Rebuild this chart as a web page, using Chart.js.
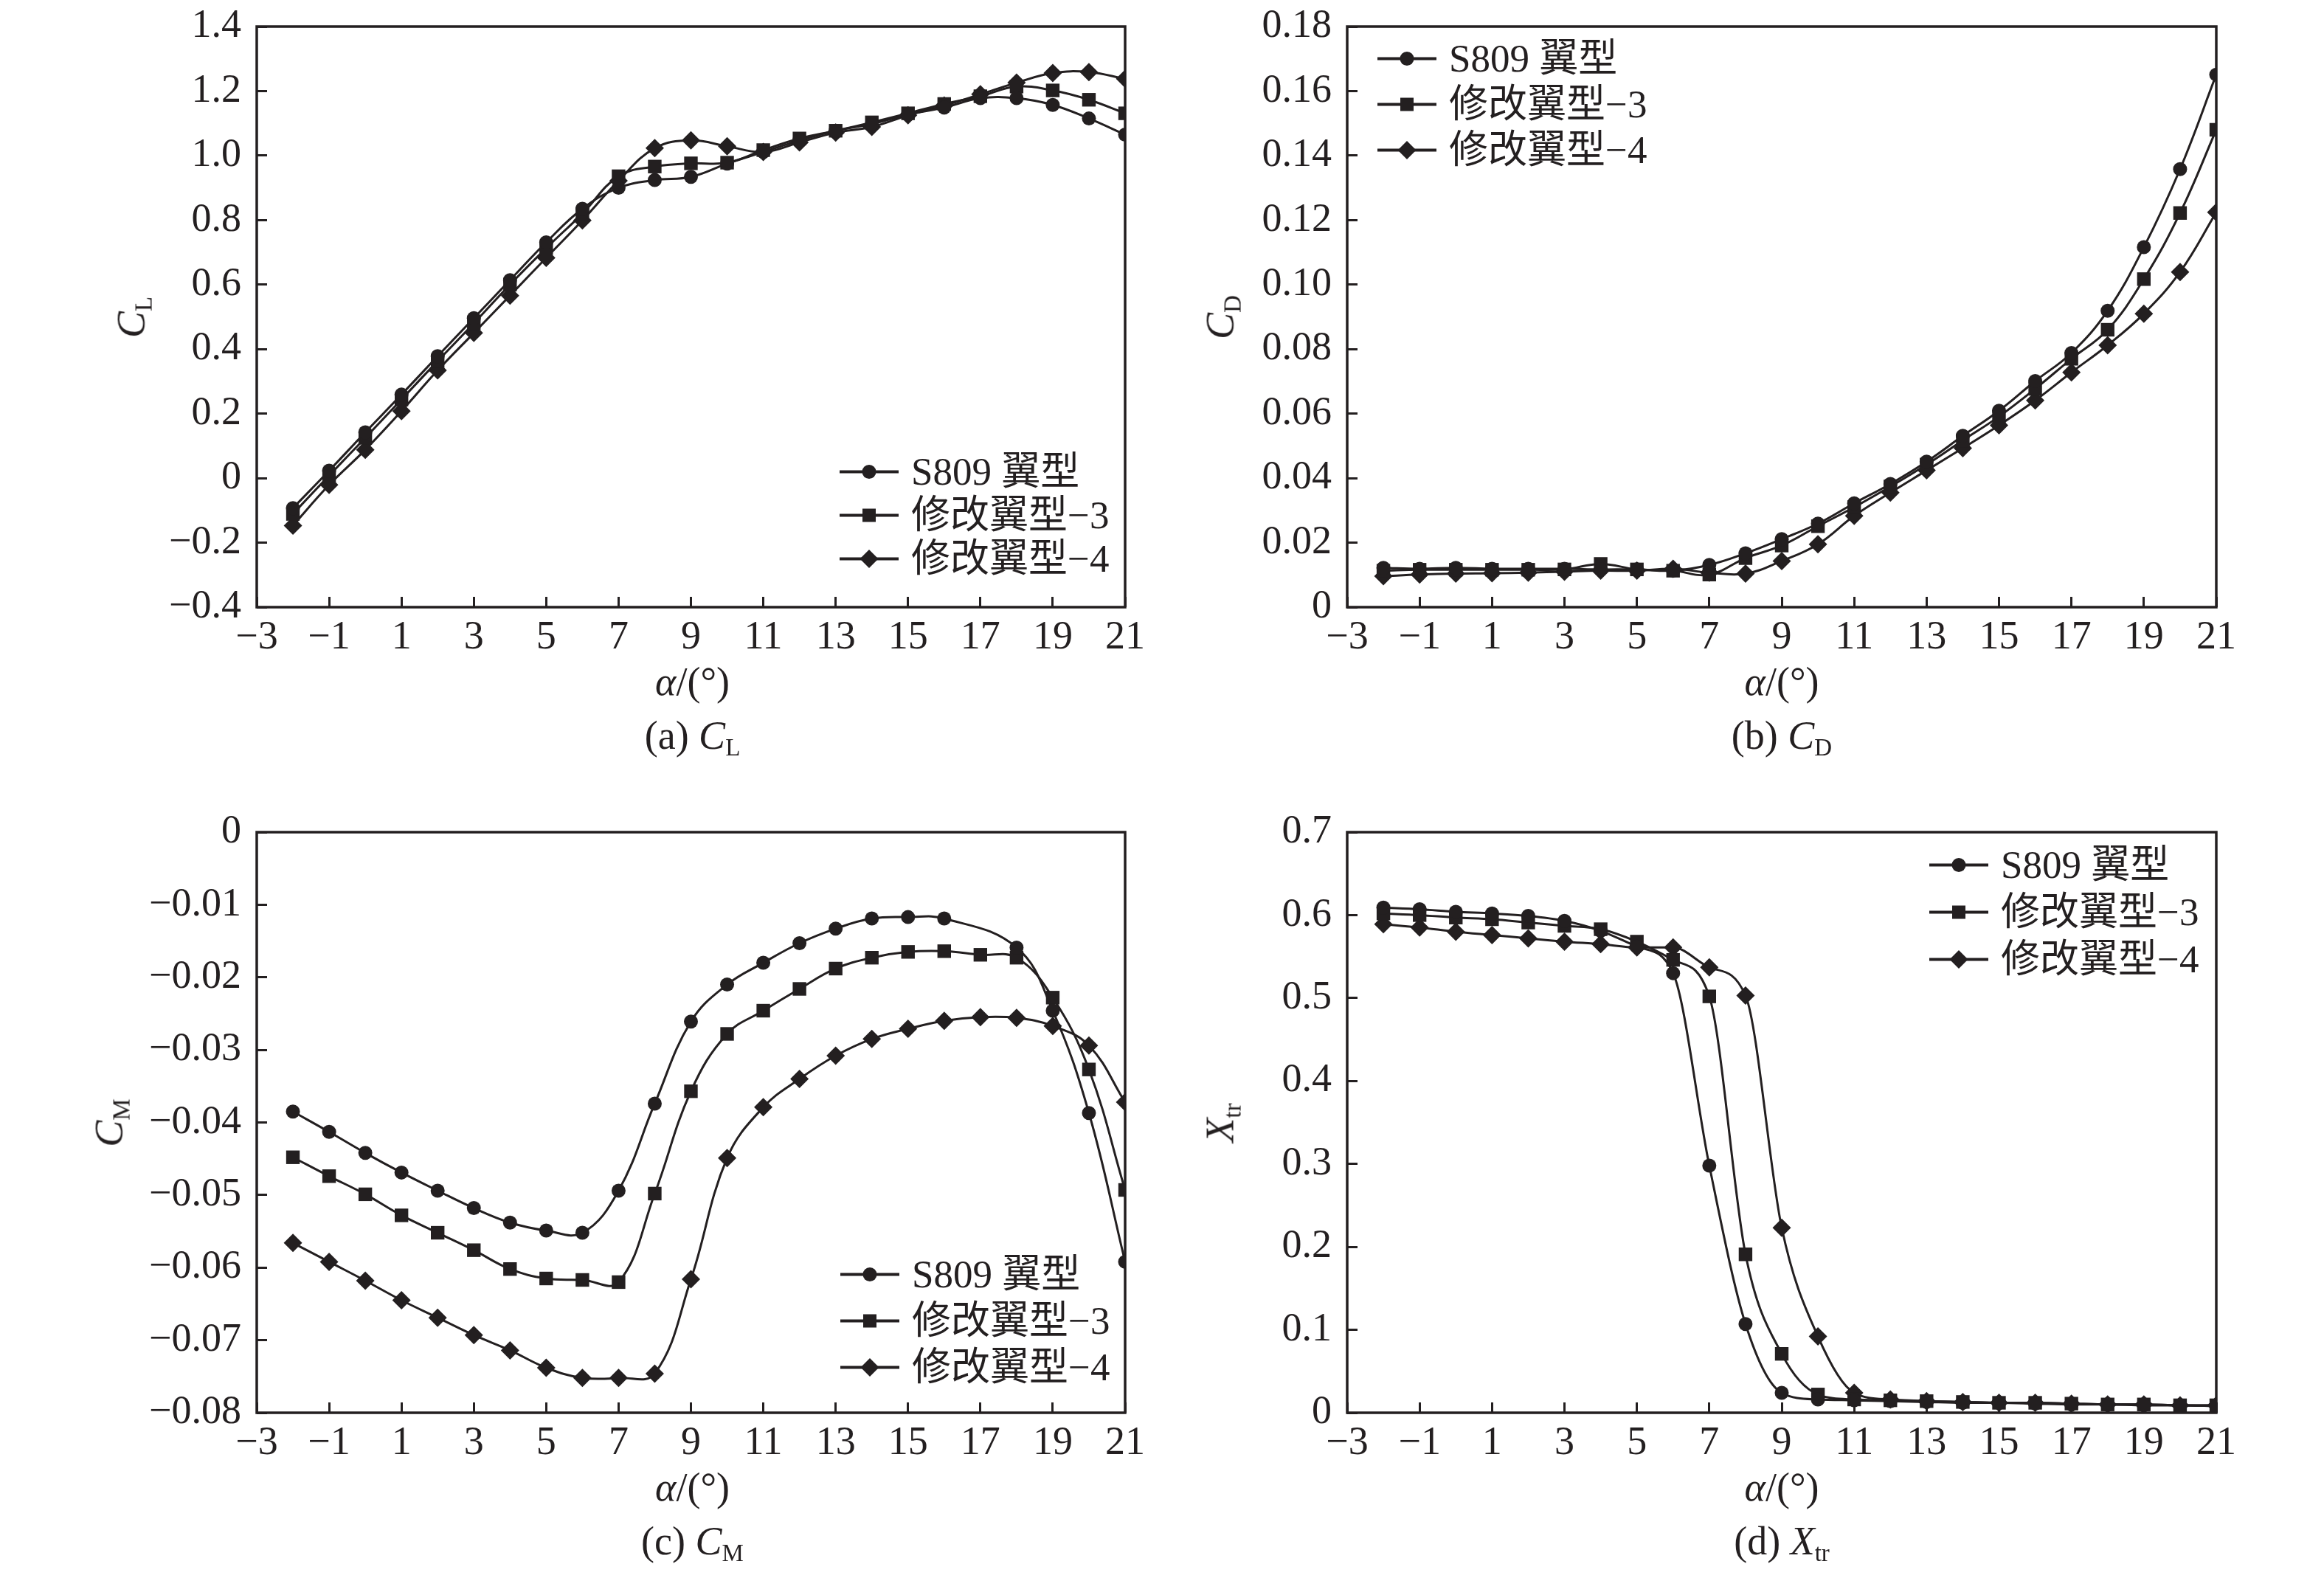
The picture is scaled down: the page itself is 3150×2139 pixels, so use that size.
<!DOCTYPE html>
<html lang="zh">
<head>
  <meta charset="utf-8">
  <title>S809 翼型与修改翼型气动特性</title>
  <script src="https://cdn.jsdelivr.net/npm/chart.js@4.4.1/dist/chart.umd.min.js"></script>
  <style>
    html, body { margin: 0; padding: 0; background: #fff; }
    body {
      width: 3150px; height: 2139px; position: relative; overflow: hidden;
      font-family: "Liberation Serif", "Noto Sans CJK SC", serif; color: #231f20;
    }
    .panel { position: absolute; width: 1575px; height: 1069px; }
    .panel canvas { position: absolute; left: 0; top: -60px; }
    .lbl {
      position: absolute; transform: translate(-50%, -50%);
      font-size: 54px; line-height: 1; white-space: nowrap;
    }
    .lbl sub { font-size: 33px; vertical-align: -0.3em; font-style: normal; }
    .ytitle { transform: translate(-50%, -50%) rotate(-90deg); }
    .legend { position: absolute; font-size: 53px; line-height: 1; }
    .legend .row {
      position: absolute; left: 0; display: flex; align-items: center;
      white-space: nowrap; transform: translateY(-50%);
    }
    .legend svg { width: 80px; height: 40px; margin-right: 17px; flex: none; }
  </style>
</head>
<body>

  <div class="panel" id="pa" style="left:0;top:0;"><canvas id="ca" width="1575" height="1129"></canvas></div>
  <div class="panel" id="pb" style="left:1575px;top:0;"><canvas id="cb" width="1575" height="1129"></canvas></div>
  <div class="panel" id="pc" style="left:0;top:1070px;"><canvas id="cc" width="1575" height="1129"></canvas></div>
  <div class="panel" id="pd" style="left:1575px;top:1070px;"><canvas id="cd" width="1575" height="1129"></canvas></div>

  <script>
    // angle of attack, deg
    var alpha = [-2, -1, 0, 1, 2, 3, 4, 5, 6, 7, 8, 9, 10, 11, 12, 13, 14, 15, 16, 17, 18, 19, 20, 21];
    var seriesNames = ['S809 翼型', '修改翼型−3', '修改翼型−4'];

    // (a) lift coefficient
    var clS809 = [-0.093, 0.023, 0.142, 0.259, 0.378, 0.496, 0.614, 0.731, 0.835, 0.900, 0.924, 0.934, 0.975, 1.011, 1.047, 1.077, 1.098, 1.127, 1.149, 1.178, 1.178, 1.157, 1.115, 1.065];
    var clMod3 = [-0.111, 0.008, 0.125, 0.244, 0.363, 0.480, 0.600, 0.713, 0.820, 0.936, 0.966, 0.976, 0.978, 1.017, 1.053, 1.077, 1.103, 1.131, 1.160, 1.184, 1.214, 1.202, 1.173, 1.131];
    var clMod4 = [-0.147, -0.021, 0.088, 0.208, 0.334, 0.450, 0.566, 0.683, 0.799, 0.922, 1.023, 1.047, 1.029, 1.011, 1.041, 1.071, 1.089, 1.125, 1.155, 1.190, 1.226, 1.256, 1.259, 1.238];

    // (b) drag coefficient
    var cdS809 = [0.0122, 0.0119, 0.0122, 0.0119, 0.0119, 0.0119, 0.0117, 0.0117, 0.0113, 0.0131, 0.0167, 0.0211, 0.0259, 0.0322, 0.0382, 0.0451, 0.0531, 0.0609, 0.0701, 0.0788, 0.0919, 0.1116, 0.1358, 0.1651];
    var cdMod3 = [0.0113, 0.0116, 0.0116, 0.0116, 0.0116, 0.0117, 0.0134, 0.0117, 0.0113, 0.0101, 0.0152, 0.0191, 0.0251, 0.0310, 0.0374, 0.0442, 0.0517, 0.0591, 0.0677, 0.0770, 0.0860, 0.1017, 0.1222, 0.1480];
    var cdMod4 = [0.0096, 0.0101, 0.0104, 0.0105, 0.0107, 0.0110, 0.0113, 0.0113, 0.0119, 0.0107, 0.0104, 0.0143, 0.0195, 0.0283, 0.0355, 0.0424, 0.0493, 0.0564, 0.0641, 0.0728, 0.0812, 0.0910, 0.1039, 0.1224];

    // (c) moment coefficient (S809 has no point at 17 deg)
    var cmS809 = [-0.0385, -0.0413, -0.0442, -0.0469, -0.0494, -0.0518, -0.0538, -0.0549, -0.0552, -0.0494, -0.0374, -0.0261, -0.0210, -0.0180, -0.0153, -0.0133, -0.0119, -0.0117, -0.0119, null, -0.0159, -0.0246, -0.0387, -0.0592];
    var cmMod3 = [-0.0448, -0.0474, -0.0499, -0.0528, -0.0552, -0.0576, -0.0602, -0.0615, -0.0617, -0.0620, -0.0498, -0.0357, -0.0278, -0.0246, -0.0216, -0.0188, -0.0173, -0.0165, -0.0164, -0.0169, -0.0173, -0.0228, -0.0327, -0.0493];
    var cmMod4 = [-0.0566, -0.0592, -0.0618, -0.0645, -0.0669, -0.0693, -0.0714, -0.0738, -0.0752, -0.0752, -0.0746, -0.0616, -0.0449, -0.0379, -0.0340, -0.0308, -0.0285, -0.0271, -0.0260, -0.0255, -0.0256, -0.0267, -0.0294, -0.0372];

    // (d) transition location
    var xtrS809 = [0.609, 0.607, 0.604, 0.602, 0.599, 0.593, 0.581, 0.562, 0.530, 0.298, 0.107, 0.024, 0.016, 0.015, 0.014, 0.013, 0.012, 0.012, 0.011, 0.010, 0.010, 0.009, 0.009, 0.008];
    var xtrMod3 = [0.602, 0.600, 0.597, 0.595, 0.591, 0.587, 0.583, 0.568, 0.546, 0.502, 0.191, 0.071, 0.022, 0.016, 0.015, 0.014, 0.013, 0.012, 0.012, 0.011, 0.010, 0.010, 0.009, 0.009];
    var xtrMod4 = [0.589, 0.585, 0.580, 0.576, 0.572, 0.568, 0.565, 0.561, 0.561, 0.537, 0.503, 0.223, 0.092, 0.024, 0.016, 0.014, 0.013, 0.012, 0.012, 0.011, 0.010, 0.010, 0.009, 0.009];

    // tick values and labels
    var alphaTicks = [-3, -1, 1, 3, 5, 7, 9, 11, 13, 15, 17, 19, 21];
    var alphaTickLabels = ['−3', '−1', '1', '3', '5', '7', '9', '11', '13', '15', '17', '19', '21'];
    var clTicks = [-0.4, -0.2, 0, 0.2, 0.4, 0.6, 0.8, 1.0, 1.2, 1.4];
    var clTickLabels = ['−0.4', '−0.2', '0', '0.2', '0.4', '0.6', '0.8', '1.0', '1.2', '1.4'];
    var cdTicks = [0, 0.02, 0.04, 0.06, 0.08, 0.10, 0.12, 0.14, 0.16, 0.18];
    var cdTickLabels = ['0', '0.02', '0.04', '0.06', '0.08', '0.10', '0.12', '0.14', '0.16', '0.18'];
    var cmTicks = [-0.08, -0.07, -0.06, -0.05, -0.04, -0.03, -0.02, -0.01, 0];
    var cmTickLabels = ['−0.08', '−0.07', '−0.06', '−0.05', '−0.04', '−0.03', '−0.02', '−0.01', '0'];
    var xtrTicks = [0, 0.1, 0.2, 0.3, 0.4, 0.5, 0.6, 0.7];
    var xtrTickLabels = ['0', '0.1', '0.2', '0.3', '0.4', '0.5', '0.6', '0.7'];

    var ink = '#231f20';
    var FONT = '"Liberation Serif", "Times New Roman", serif';
    var W = 1575, OFF = 60, CH = 1069 + OFF;   // canvas starts OFF px above its panel
    var markers = [
      { style: 'circle', radius: 9.5 },
      { style: 'rect', radius: 13 },
      { style: 'rectRot', radius: 12.5 }
    ];

    var panels = [
      { canvas: 'ca', div: 'pa', box: { l: 348, r: 1529, t: 36, b: 823 },
        yTicks: clTicks, yLabels: clTickLabels, series: [clS809, clMod3, clMod4], mono: false,
        ytitle: '<i>C</i><sub>L</sub>', ytx: 181, caption: '(a) <i>C</i><sub>L</sub>',
        legend: { x: 1138, y: 639, gap: 59 } },
      { canvas: 'cb', div: 'pb', box: { l: 251, r: 1429, t: 36, b: 823 },
        yTicks: cdTicks, yLabels: cdTickLabels, series: [cdS809, cdMod3, cdMod4], mono: false,
        ytitle: '<i>C</i><sub>D</sub>', ytx: 82, caption: '(b) <i>C</i><sub>D</sub>',
        legend: { x: 292, y: 79, gap: 62 } },
      { canvas: 'cc', div: 'pc', box: { l: 348, r: 1529, t: 58, b: 845 },
        yTicks: cmTicks, yLabels: cmTickLabels, series: [cmS809, cmMod3, cmMod4], mono: false,
        ytitle: '<i>C</i><sub>M</sub>', ytx: 151, caption: '(c) <i>C</i><sub>M</sub>',
        legend: { x: 1139, y: 657, gap: 63 } },
      { canvas: 'cd', div: 'pd', box: { l: 251, r: 1429, t: 58, b: 845 },
        yTicks: xtrTicks, yLabels: xtrTickLabels, series: [xtrS809, xtrMod3, xtrMod4], mono: true,
        ytitle: '<i>X</i><sub>tr</sub>', ytx: 82, caption: '(d) <i>X</i><sub>tr</sub>',
        legend: { x: 1040, y: 102, gap: 64 } }
    ];

    // full frame round the plot area
    var framePlugin = {
      id: 'frame',
      afterDraw: function (chart) {
        var a = chart.chartArea, ctx = chart.ctx;
        ctx.save();
        ctx.strokeStyle = ink;
        ctx.lineWidth = 3.5;
        ctx.strokeRect(a.left, a.top, a.right - a.left, a.bottom - a.top);
        ctx.restore();
      }
    };

    function markerSvg(i) {
      var m = '';
      if (i === 0) m = '<circle cx="40" cy="20" r="9.5" fill="' + ink + '"/>';
      if (i === 1) m = '<rect x="31" y="11" width="18" height="18" fill="' + ink + '"/>';
      if (i === 2) m = '<polygon points="40,7.5 52.5,20 40,32.5 27.5,20" fill="' + ink + '"/>';
      return '<svg viewBox="0 0 80 40"><line x1="0" y1="20" x2="80" y2="20" stroke="' + ink + '" stroke-width="4"/>' + m + '</svg>';
    }

    function addText(div, cls, html, x, y) {
      var el = document.createElement('div');
      el.className = cls;
      el.innerHTML = html;
      el.style.left = x + 'px';
      el.style.top = y + 'px';
      div.appendChild(el);
    }

    panels.forEach(function (p) {
      var box = p.box;
      var top = box.t + OFF, bottom = box.b + OFF;
      var datasets = p.series.map(function (vals, i) {
        return {
          label: seriesNames[i],
          data: alpha.map(function (a, k) { return { x: a, y: vals[k] }; }),
          borderColor: ink,
          backgroundColor: ink,
          borderWidth: 3,
          pointStyle: markers[i].style,
          pointRadius: markers[i].radius,
          pointBorderWidth: 0,
          pointBackgroundColor: ink,
          tension: 0.4,
          cubicInterpolationMode: p.mono ? 'monotone' : 'default',
          spanGaps: true,
          clip: 0
        };
      });

      new Chart(document.getElementById(p.canvas), {
        type: 'line',
        data: { datasets: datasets },
        plugins: [framePlugin],
        options: {
          responsive: false,
          animation: false,
          devicePixelRatio: 1,
          events: [],
          layout: { padding: { left: 0, top: top, right: W - box.r, bottom: 0 } },
          plugins: { legend: { display: false }, tooltip: { enabled: false } },
          scales: {
            x: {
              type: 'linear', min: -3, max: 21,
              afterBuildTicks: function (s) { s.ticks = alphaTicks.map(function (v) { return { value: v }; }); },
              afterFit: function (s) { s.height = CH - bottom; },
              ticks: {
                autoSkip: false, maxRotation: 0, padding: 23, color: ink,
                font: { family: FONT, size: 54 },
                callback: function (v, i) { return alphaTickLabels[i]; }
              },
              grid: { drawOnChartArea: false, drawTicks: true, tickLength: -14, color: ink, lineWidth: 3 },
              border: { display: false }
            },
            y: {
              type: 'linear',
              min: p.yTicks[0], max: p.yTicks[p.yTicks.length - 1],
              afterBuildTicks: function (s) { s.ticks = p.yTicks.map(function (v) { return { value: v }; }); },
              afterFit: function (s) { s.width = box.l; },
              ticks: {
                autoSkip: false, padding: 35, color: ink,
                font: { family: FONT, size: 54 },
                callback: function (v, i) { return p.yLabels[i]; }
              },
              grid: { drawOnChartArea: false, drawTicks: true, tickLength: -14, color: ink, lineWidth: 3 },
              border: { display: false }
            }
          }
        }
      });

      var div = document.getElementById(p.div);
      var cx = (box.l + box.r) / 2;
      addText(div, 'lbl ytitle', p.ytitle, p.ytx, (box.t + box.b) / 2);
      addText(div, 'lbl', '<i>α</i>/(°)', cx, box.b + 101);
      addText(div, 'lbl', p.caption, cx, box.b + 177);

      var lg = document.createElement('div');
      lg.className = 'legend';
      lg.style.left = p.legend.x + 'px';
      lg.style.top = p.legend.y + 'px';
      seriesNames.forEach(function (name, i) {
        var row = document.createElement('div');
        row.className = 'row';
        row.style.top = (i * p.legend.gap) + 'px';
        row.innerHTML = markerSvg(i) + '<span>' + name + '</span>';
        lg.appendChild(row);
      });
      div.appendChild(lg);
    });
  </script>
</body>
</html>
